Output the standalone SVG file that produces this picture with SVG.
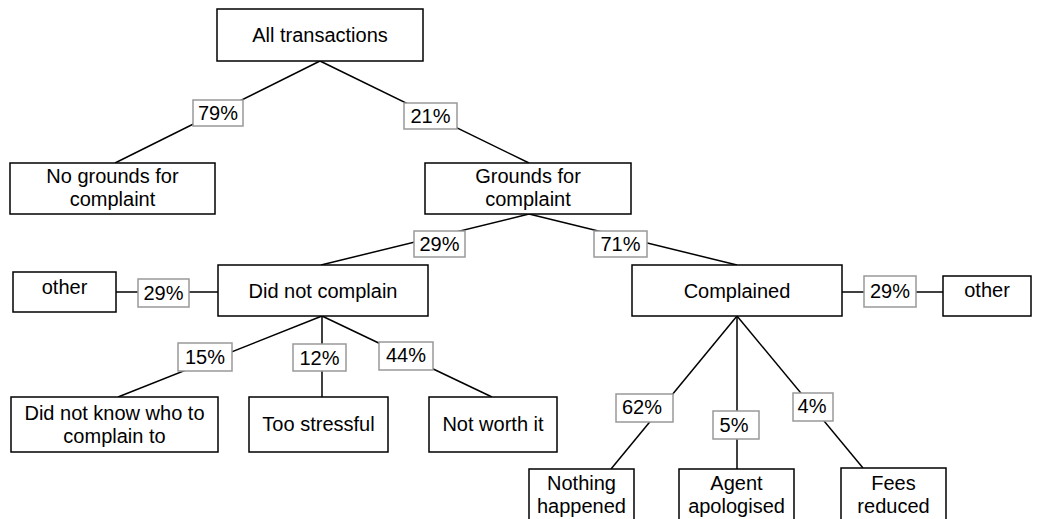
<svg xmlns="http://www.w3.org/2000/svg" width="1039" height="519" viewBox="0 0 1039 519">
<style>
.node rect{fill:#fff;stroke:#000;stroke-width:1.5}
.lbl rect{fill:#fff;stroke:#999;stroke-width:1.5}
text{font-family:"Liberation Sans",Arial,sans-serif;font-size:20px;fill:#000;text-anchor:middle}
.edges line{stroke:#000;stroke-width:1.5}
</style>
<rect width="1039" height="519" fill="#fff"/>
<g id="connectors" class="edges">
<line x1="320" y1="61" x2="115" y2="163"/>
<line x1="320" y1="61" x2="529" y2="163"/>
<line x1="529" y1="214" x2="321" y2="265"/>
<line x1="529" y1="214" x2="737" y2="265"/>
<line x1="116" y1="292" x2="218" y2="292"/>
<line x1="842" y1="292" x2="943" y2="292"/>
<line x1="322" y1="316" x2="118" y2="397"/>
<line x1="322" y1="316" x2="322" y2="397"/>
<line x1="322" y1="316" x2="492" y2="397"/>
<line x1="737" y1="316" x2="611" y2="469"/>
<line x1="737" y1="316" x2="737" y2="469"/>
<line x1="737" y1="316" x2="863" y2="468"/>
</g>
<g id="labels">
<g class="lbl" id="l79"><rect x="193" y="100" width="50" height="26"/><text x="218" y="120">79%</text></g>
<g class="lbl" id="l21"><rect x="404" y="103" width="53" height="26"/><text x="430.5" y="123">21%</text></g>
<g class="lbl" id="l29a"><rect x="414" y="231" width="51" height="26"/><text x="439.5" y="251">29%</text></g>
<g class="lbl" id="l71"><rect x="594" y="231" width="53" height="26"/><text x="620.5" y="251">71%</text></g>
<g class="lbl" id="l29b"><rect x="138" y="279" width="51" height="28"/><text x="163.5" y="300">29%</text></g>
<g class="lbl" id="l29c"><rect x="864" y="276" width="52" height="31"/><text x="890" y="298">29%</text></g>
<g class="lbl" id="l15"><rect x="178" y="343" width="54" height="28"/><text x="205" y="364">15%</text></g>
<g class="lbl" id="l12"><rect x="293" y="344" width="53" height="27"/><text x="319.5" y="365">12%</text></g>
<g class="lbl" id="l44"><rect x="379" y="342" width="54" height="28"/><text x="406" y="362">44%</text></g>
<g class="lbl" id="l62"><rect x="616" y="394" width="57" height="28"/><text x="642" y="414">62%</text></g>
<g class="lbl" id="l5"><rect x="713" y="411" width="46" height="28"/><text x="734" y="432">5%</text></g>
<g class="lbl" id="l4"><rect x="793" y="393" width="40" height="28"/><text x="812" y="413">4%</text></g>
</g>
<g id="n-all" class="node"><rect x="217" y="9" width="206" height="52"/><text x="320" y="42">All transactions</text></g>
<g id="n-nogrounds" class="node"><rect x="10" y="163" width="205" height="51"/><text x="112.5" y="183">No grounds for</text><text x="112.5" y="206">complaint</text></g>
<g id="n-grounds" class="node"><rect x="425" y="163" width="206" height="51"/><text x="528" y="183">Grounds for</text><text x="528" y="206">complaint</text></g>
<g id="n-didnot" class="node"><rect x="218" y="265" width="210" height="51"/><text x="323" y="298">Did not complain</text></g>
<g id="n-complained" class="node"><rect x="632" y="265" width="210" height="51"/><text x="737" y="298">Complained</text></g>
<g id="n-other-left" class="node"><rect x="13" y="272" width="103" height="40"/><text x="64.5" y="294">other</text></g>
<g id="n-other-right" class="node"><rect x="943" y="276" width="88" height="40"/><text x="987" y="297">other</text></g>
<g id="n-didnotknow" class="node"><rect x="11" y="397" width="207" height="55"/><text x="114.5" y="420">Did not know who to</text><text x="114.5" y="443">complain to</text></g>
<g id="n-stressful" class="node"><rect x="249" y="397" width="139" height="55"/><text x="318.5" y="431">Too stressful</text></g>
<g id="n-notworth" class="node"><rect x="429" y="397" width="128" height="55"/><text x="493" y="431">Not worth it</text></g>
<g id="n-nothing" class="node"><rect x="529" y="469" width="105" height="56"/><text x="581.5" y="490">Nothing</text><text x="581.5" y="513">happened</text></g>
<g id="n-agent" class="node"><rect x="679" y="469" width="115" height="56"/><text x="736.5" y="490">Agent</text><text x="736.5" y="513">apologised</text></g>
<g id="n-fees" class="node"><rect x="841" y="468" width="105" height="57"/><text x="893.5" y="490">Fees</text><text x="893.5" y="513">reduced</text></g>
</svg>
